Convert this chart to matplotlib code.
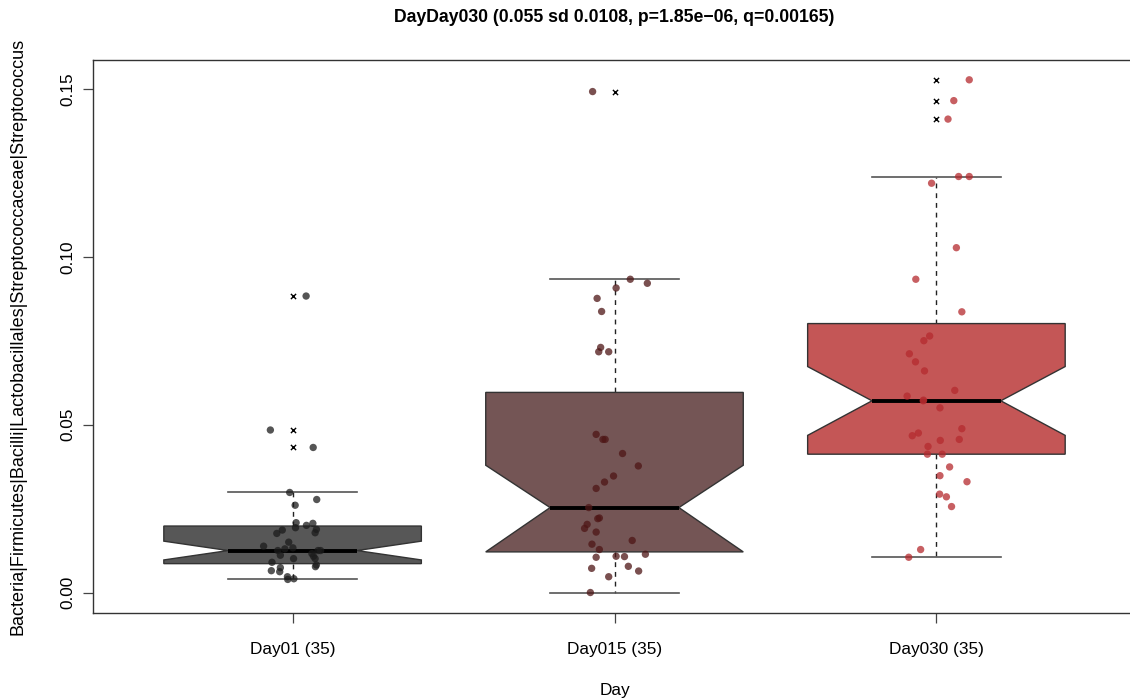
import matplotlib
matplotlib.use("Agg")
import matplotlib.pyplot as plt
import numpy as np

plt.rcParams['font.family'] = ['Liberation Sans', 'DejaVu Sans']

# Groups and summary statistics of the notched boxes
groups = ["Day01", "Day015", "Day030"]
group_n = [35, 35, 35]
q1 = [0.0086, 0.0121, 0.0412]
median = [0.0125, 0.0253, 0.0571]
q3 = [0.0198, 0.0596, 0.0801]
whisker_lo = [0.0039, 0.0000, 0.0105]
whisker_hi = [0.0298, 0.0933, 0.1239]
notch_lo = [0.0097, 0.0121, 0.0468]
notch_hi = [0.0153, 0.0379, 0.0673]
outliers = [[0.0883, 0.0484, 0.0432], [0.1492], [0.1527, 0.1465, 0.1410]]

# Individual samples: jitter offset and abundance
day01_jit = [-0.009, 0.075, 0.008, 0.011, 0.009, 0.043, 0.063, 0.074, 0.070, -0.032,
             -0.049, -0.012, -0.090, 0.001, -0.046, -0.038, 0.003, 0.065, 0.070, 0.087,
             0.079, -0.064, 0.071, -0.038, -0.066, -0.040, -0.016, 0.004, -0.015, 0.042,
             -0.069, 0.064, 0.060, -0.024, 0.074]
day01_val = [0.0298, 0.0277, 0.0260, 0.0208, 0.0193, 0.0200, 0.0206, 0.0188, 0.0178, 0.0186,
             0.0176, 0.0150, 0.0138, 0.0133, 0.0125, 0.0111, 0.0101, 0.0108, 0.0101, 0.0125,
             0.0125, 0.0090, 0.0077, 0.0074, 0.0065, 0.0062, 0.0047, 0.0041, 0.0039, 0.0883,
             0.0484, 0.0432, 0.0116, 0.0130, 0.0082]
day015_jit = [0.049, 0.102, 0.005, -0.054, -0.040, -0.043, -0.049, -0.018, -0.057, -0.036,
              -0.029, 0.025, 0.074, -0.003, -0.031, -0.057, -0.080, -0.047, -0.052, -0.085,
              -0.093, -0.057, 0.055, -0.070, -0.047, 0.096, -0.057, 0.005, 0.031, 0.043,
              -0.071, 0.075, -0.018, -0.075, -0.068]
day015_val = [0.0933, 0.0921, 0.0907, 0.0876, 0.0837, 0.0730, 0.0717, 0.0717, 0.0471, 0.0456,
              0.0456, 0.0414, 0.0377, 0.0347, 0.0329, 0.0310, 0.0253, 0.0222, 0.0220, 0.0203,
              0.0191, 0.0180, 0.0155, 0.0144, 0.0128, 0.0114, 0.0105, 0.0108, 0.0107, 0.0078,
              0.0072, 0.0064, 0.0047, 0.0000, 0.1492]
day030_jit = [0.102, 0.054, 0.036, 0.069, 0.102, -0.015, 0.062, -0.064, 0.079, -0.021,
              -0.039, -0.084, -0.065, -0.037, 0.057, -0.091, -0.041, 0.011, 0.079, -0.056,
              -0.075, 0.071, 0.012, -0.026, -0.028, 0.018, 0.041, 0.011, 0.095, 0.010,
              0.031, 0.047, -0.049, -0.086, -0.040]
day030_val = [0.1527, 0.1465, 0.1410, 0.1239, 0.1239, 0.1219, 0.1027, 0.0933, 0.0836, 0.0764,
              0.0750, 0.0711, 0.0687, 0.0660, 0.0602, 0.0585, 0.0571, 0.0550, 0.0488, 0.0475,
              0.0467, 0.0456, 0.0453, 0.0435, 0.0412, 0.0412, 0.0374, 0.0348, 0.0330, 0.0293,
              0.0285, 0.0256, 0.0128, 0.0105, 0.0573]

box_colors = ["#575757", "#745555", "#c45656"]
point_colors = ["#1c1c1c", "#4e1616", "#b52a2e"]

title = "DayDay030 (0.055 sd 0.0108, p=1.85e\u221206, q=0.00165)"
ylabel = "Bacteria|Firmicutes|Bacilli|Lactobacillales|Streptococcaceae|Streptococcus"
xlabel = "Day"

FS = 12.4

fig = plt.figure(figsize=(11.3, 7.0), dpi=100)
ax = fig.add_axes([93 / 1130, 87 / 700, 1043 / 1130, 553 / 700])

positions = np.arange(1, len(groups) + 1)
stats = []
for i in range(len(groups)):
    stats.append(dict(med=median[i], q1=q1[i], q3=q3[i], whislo=whisker_lo[i],
                      whishi=whisker_hi[i], cilo=notch_lo[i], cihi=notch_hi[i],
                      fliers=[]))

bp = ax.bxp(stats, positions=positions, widths=0.8, shownotches=True,
            showfliers=False, patch_artist=True,
            boxprops=dict(edgecolor="#333333", linewidth=1.0),
            medianprops=dict(color="black", linewidth=2.8, solid_capstyle="butt"),
            whiskerprops=dict(color="#222222", linewidth=1.0, linestyle=(0, (3.5, 3.5))),
            capprops=dict(color="#555555", linewidth=1.2))
for patch, c in zip(bp["boxes"], box_colors):
    patch.set_facecolor(c)
    patch.set_zorder(2)
for w in bp["whiskers"]:
    w.set_zorder(1)

# Outliers drawn as crosses on the box centre
for pos, outs in zip(positions, outliers):
    ax.scatter([pos] * len(outs), outs, marker="x", s=14, color="black",
               linewidths=1.0, zorder=4)

# Jittered samples
for pos, jit, vals, c in zip(positions, [day01_jit, day015_jit, day030_jit],
                             [day01_val, day015_val, day030_val], point_colors):
    ax.scatter(pos + np.asarray(jit), vals, s=28, color=c, alpha=0.75,
               edgecolors="none", zorder=5)

ax.set_xlim(0.38, 3.62)
ax.set_ylim(-0.0061, 0.1586)

ax.set_xticks(positions)
ax.set_xticklabels([f"{g} ({n})" for g, n in zip(groups, group_n)], fontsize=FS)
yt = [0.00, 0.05, 0.10, 0.15]
ax.set_yticks(yt)
ax.set_yticklabels([f"{v:.2f}" for v in yt], rotation=90, va="center", fontsize=FS)
ax.tick_params(axis="x", length=7, width=0.9, color="#444444", pad=14)
ax.tick_params(axis="y", length=7, width=0.9, color="#444444", pad=6)

for s in ax.spines.values():
    s.set_linewidth(1.0)
    s.set_color("#333333")

# Centre the surrounding labels on the plotting region
cx = (93 + 1043 / 2) / 1130
cy = (700 - (60 + 613) / 2) / 700
fig.text(cx, 1 - 18 / 700, title, ha="center", va="center", fontsize=12.7,
         fontweight="bold")
fig.text(cx, 1 - 690 / 700, xlabel, ha="center", va="center", fontsize=FS)
fig.text(18 / 1130, cy, ylabel, ha="center", va="center",
         rotation=90, fontsize=13.0)

fig.savefig("out.png", dpi=100)
